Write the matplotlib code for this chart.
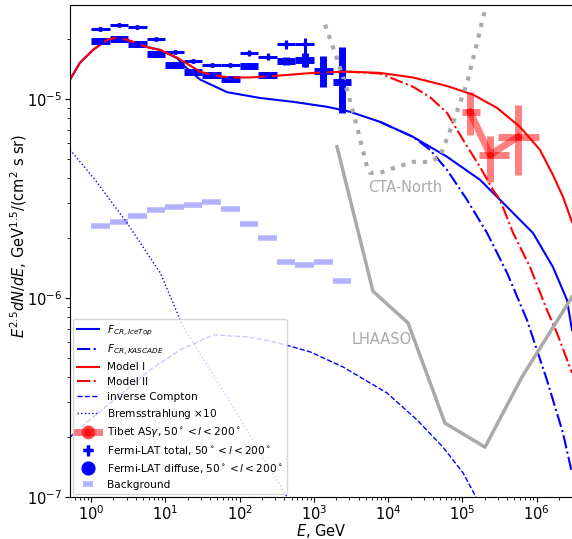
import numpy as np
import matplotlib.pyplot as plt

# Fermi-LAT energy bins, GeV
bin_lo = [1.0, 1.78, 3.16, 5.62, 10.0, 17.8, 31.6, 56.2, 100, 178, 316, 562, 1000, 1780]
bin_hi = [1.78, 3.16, 5.62, 10.0, 17.8, 31.6, 56.2, 100, 178, 316, 562, 1000, 1780, 3160]

fermi_total = [2.25e-5, 2.36e-5, 2.30e-5, 2.00e-5, 1.72e-5, 1.55e-5, 1.48e-5, 1.48e-5,
               1.70e-5, 1.63e-5, 1.89e-5, 1.89e-5]
total_err_lo = [0.05e-5, 0.05e-5, 0.05e-5, 0.04e-5, 0.04e-5, 0.04e-5, 0.04e-5, 0.04e-5,
                0.05e-5, 0.06e-5, 0.12e-5, 0.44e-5]
total_err_hi = [0.05e-5, 0.05e-5, 0.05e-5, 0.04e-5, 0.04e-5, 0.04e-5, 0.04e-5, 0.04e-5,
                0.05e-5, 0.06e-5, 0.08e-5, 0.14e-5]

fermi_diffuse = [1.96e-5, 2.00e-5, 1.89e-5, 1.68e-5, 1.48e-5, 1.37e-5, 1.31e-5, 1.26e-5,
                 1.47e-5, 1.31e-5, 1.55e-5, 1.57e-5, 1.38e-5, 1.22e-5]
diffuse_err_lo = [0.03e-5, 0.03e-5, 0.03e-5, 0.03e-5, 0.03e-5, 0.03e-5, 0.03e-5, 0.03e-5,
                  0.03e-5, 0.03e-5, 0.07e-5, 0.12e-5, 0.23e-5, 0.37e-5]
diffuse_err_hi = [0.03e-5, 0.03e-5, 0.03e-5, 0.03e-5, 0.03e-5, 0.03e-5, 0.03e-5, 0.03e-5,
                  0.03e-5, 0.03e-5, 0.07e-5, 0.12e-5, 0.26e-5, 0.60e-5]

background = [2.30e-6, 2.41e-6, 2.58e-6, 2.77e-6, 2.86e-6, 2.93e-6, 3.03e-6, 2.80e-6,
              2.36e-6, 2.00e-6, 1.52e-6, 1.47e-6, 1.52e-6, 1.22e-6]

# Tibet ASgamma
tibet_e = [1.26e5, 2.35e5, 5.6e5]
tibet_e_lo = [1.0e5, 1.67e5, 3.0e5]
tibet_e_hi = [1.7e5, 4.2e5, 1.07e6]
tibet_f = [8.6e-6, 5.24e-6, 6.44e-6]
tibet_f_lo = [6.6e-6, 3.83e-6, 4.15e-6]
tibet_f_hi = [1.08e-5, 6.5e-6, 9.3e-6]

# model curves
e_m1 = [0.52, 0.71, 1.06, 1.64, 2.24, 3.05, 5.67, 8.49, 14.4, 29.3, 46.7, 74.3, 138, 350,
        973, 2790, 7760, 21600, 61800, 1.38e5, 2.91e5, 5.94e5, 1.10e6, 1.65e6, 2.25e6, 2.98e6]
f_m1 = [1.25e-5, 1.52e-5, 1.76e-5, 1.98e-5, 2.03e-5, 1.98e-5, 1.82e-5, 1.76e-5, 1.61e-5,
        1.37e-5, 1.31e-5, 1.28e-5, 1.28e-5, 1.31e-5, 1.35e-5, 1.37e-5, 1.35e-5, 1.28e-5,
        1.16e-5, 1.05e-5, 9.01e-6, 7.23e-6, 5.55e-6, 4.15e-6, 3.22e-6, 2.41e-6]

e_m2 = [2790, 7760, 21600, 36500, 61800, 1.02e5, 1.72e5, 2.57e5, 3.20e5, 4.8e5, 8.11e5,
        1.37e6, 1.87e6, 2.98e6]
f_m2 = [1.37e-5, 1.34e-5, 1.15e-5, 1.02e-5, 8.51e-6, 6.22e-6, 4.55e-6, 3.49e-6, 3.11e-6,
        2.12e-6, 1.43e-6, 8.70e-7, 6.67e-7, 4.20e-7]

e_ice = [0.52, 0.71, 1.06, 1.64, 2.24, 3.05, 5.67, 8.49, 14.4, 18.4, 29.3, 67.7, 188, 523,
         1500, 3060, 7760, 21600, 61800, 1.72e5, 3.20e5, 8.89e5, 1.65e6, 2.55e6, 2.98e6]
f_ice = [1.25e-5, 1.52e-5, 1.76e-5, 1.98e-5, 2.03e-5, 1.98e-5, 1.82e-5, 1.76e-5, 1.60e-5,
         1.45e-5, 1.25e-5, 1.08e-5, 1.01e-5, 9.66e-6, 9.12e-6, 8.61e-6, 7.66e-6, 6.44e-6,
         5.12e-6, 3.92e-6, 3.11e-6, 2.12e-6, 1.43e-6, 9.77e-7, 6.90e-7]

e_kas = [7760, 21600, 36500, 61800, 1.15e5, 2.14e5, 3.97e5, 7.38e5, 1.37e6, 2.25e6, 2.98e6]
f_kas = [7.66e-6, 6.44e-6, 5.55e-6, 4.40e-6, 3.11e-6, 2.12e-6, 1.34e-6, 7.75e-7, 3.87e-7,
         2.10e-7, 1.32e-7]

e_ic = [0.52, 0.97, 2.46, 6.22, 15.8, 43.9, 126, 257, 523, 887, 2465, 9640, 24400, 54700,
        1.02e5, 1.52e5]
f_ic = [2.00e-7, 2.44e-7, 3.26e-7, 4.35e-7, 5.48e-7, 6.52e-7, 6.37e-7, 6.08e-7, 5.67e-7,
        5.36e-7, 4.50e-7, 3.33e-7, 2.44e-7, 1.78e-7, 1.32e-7, 1.0e-7]

e_brems = [0.52, 1.13, 3.05, 5.67, 8.49, 12.7, 17.3, 40, 86.7, 188, 435]
f_brems = [5.55e-6, 3.92e-6, 2.38e-6, 1.68e-6, 1.34e-6, 9.44e-7, 7.15e-7, 4.35e-7, 2.74e-7,
           1.68e-7, 1.0e-7]

# sensitivities
e_cta = [1410, 1923, 2790, 3800, 5185, 5690, 7760, 13100, 21600, 36500, 49800, 74500,
         1.15e5, 1.57e5, 2.01e5]
f_cta = [2.36e-5, 1.70e-5, 1.11e-5, 7.23e-6, 4.55e-6, 4.25e-6, 4.25e-6, 4.55e-6, 4.82e-6,
         4.82e-6, 5.12e-6, 7.57e-6, 1.20e-5, 1.91e-5, 2.80e-5]

e_lhaaso = [2046, 6240, 18500, 58100, 2.01e5, 6.32e5, 2.98e6]
f_lhaaso = [5.74e-6, 1.08e-6, 7.48e-7, 2.35e-7, 1.78e-7, 4.01e-7, 1.01e-6]

fig = plt.figure(figsize=(5.72, 5.39), dpi=100)
ax = fig.add_axes([70/572, 42/539, 502/572, 492/539])

lo = np.array(bin_lo)
hi = np.array(bin_hi)
ec = np.sqrt(lo*hi)
xerr = [ec - lo, hi - ec]
n = len(fermi_total)

bg = ax.errorbar(ec, background, xerr=xerr, fmt='none', ecolor='b', alpha=0.3,
                 elinewidth=4, label='Background')
dif = ax.errorbar(ec, fermi_diffuse, xerr=xerr, yerr=[diffuse_err_lo, diffuse_err_hi],
                  fmt='o', color='b', ms=4, elinewidth=5,
                  label=r'Fermi-LAT diffuse, $50^\circ<l<200^\circ$')
tot = ax.errorbar(ec[:n], fermi_total, xerr=[xerr[0][:n], xerr[1][:n]],
                  yerr=[total_err_lo, total_err_hi], fmt='+', color='b', ms=3, mew=2.5,
                  elinewidth=2.2, label=r'Fermi-LAT total, $50^\circ<l<200^\circ$')

te = np.array(tibet_e)
tf = np.array(tibet_f)
tib = ax.errorbar(te, tf, xerr=[te - np.array(tibet_e_lo), np.array(tibet_e_hi) - te],
                  yerr=[tf - np.array(tibet_f_lo), np.array(tibet_f_hi) - tf],
                  fmt='o-', color='r', alpha=0.5, ms=4, lw=5, elinewidth=5,
                  label=r'Tibet AS$\gamma$, $50^\circ<l<200^\circ$')

l_ice, = ax.plot(e_ice, f_ice, 'b-', lw=1.5, label=r'$F_{CR, IceTop}$')
l_kas, = ax.plot(e_kas, f_kas, 'b-.', lw=1.5, label=r'$F_{CR, KASCADE}$')
l_m1, = ax.plot(e_m1, f_m1, 'r-', lw=1.5, label='Model I')
l_m2, = ax.plot(e_m2, f_m2, 'r-.', lw=1.5, label='Model II')
l_ic, = ax.plot(e_ic, f_ic, 'b--', lw=1, label='inverse Compton')
l_br, = ax.plot(e_brems, f_brems, 'b:', lw=1, label=r'Bremsstrahlung $\times 10$')

ax.plot(e_cta, f_cta, ':', color='darkgray', lw=3)
ax.plot(e_lhaaso, f_lhaaso, '-', color='darkgray', lw=2.5)
ax.text(5350, 3.92e-6, 'CTA-North', color='darkgray', fontsize=10.5, va='top')
ax.text(3260, 6.15e-7, 'LHAASO', color='darkgray', fontsize=10.5, va='center')

ax.set_xscale('log')
ax.set_yscale('log')
ax.set_xlim(0.52, 2.98e6)
ax.set_ylim(1e-7, 2.96e-5)
ax.spines['right'].set_visible(False)
ax.tick_params(labelsize=10.5, pad=2)
ax.set_xlabel(r'$E$, GeV', fontsize=10.5, labelpad=-1)
ax.set_ylabel(r'$E^{2.5}dN/dE$, GeV$^{1.5}$/(cm$^2$ s sr)', fontsize=10.5)
ax.yaxis.set_label_coords(-0.082, 0.53)

handles = [l_ice, l_kas, l_m1, l_m2, l_ic, l_br, tib, tot, dif, bg]
ax.legend(handles, [h.get_label() for h in handles], loc='lower left', fontsize=7.6,
          markerscale=2.3, borderaxespad=0.3, labelspacing=0.45)

plt.savefig('out.png', dpi=100)
